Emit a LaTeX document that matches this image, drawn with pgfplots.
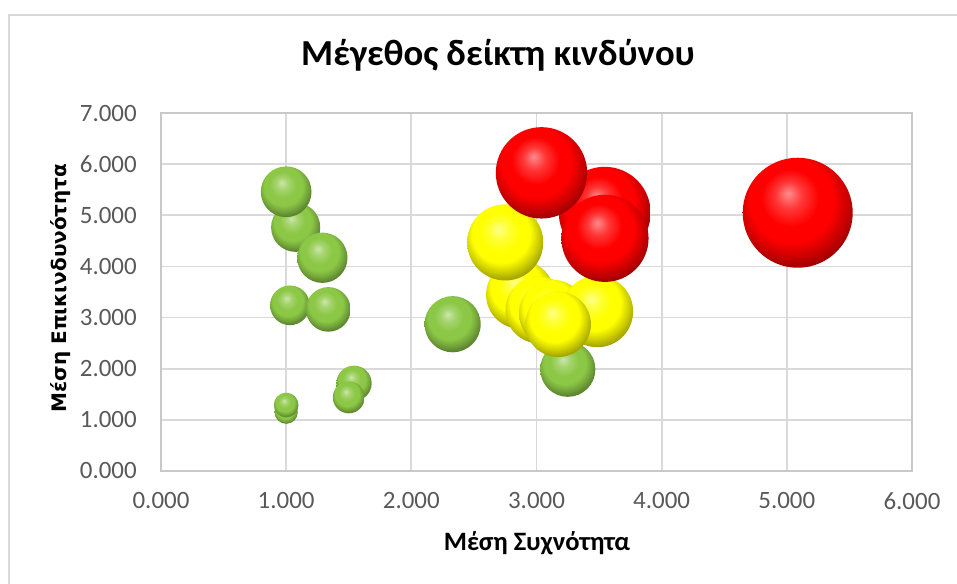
\documentclass[border=0pt]{standalone}
\usepackage{fontspec}
\setmainfont{Carlito}
\newfontfamily\ylabfont{DejaVu Sans}
\usepackage{pgfplots}
\pgfplotsset{compat=1.18}
\usetikzlibrary{plotmarks}
\definecolor{gridc}{RGB}{217,217,217}
\definecolor{axisc}{RGB}{200,200,200}
\definecolor{tickc}{RGB}{89,89,89}
\definecolor{gball}{RGB}{140,200,70}
\definecolor{yball}{RGB}{255,255,0}
\definecolor{rball}{RGB}{255,0,0}
\makeatletter
\pgfdeclareradialshading[tikz@ball]{ball}{\pgfqpoint{-4.5bp}{9bp}}{%
 color(0bp)=(tikz@ball!45!white);
 color(6bp)=(tikz@ball!78!white);
 color(13bp)=(tikz@ball);
 color(19bp)=(tikz@ball);
 color(24bp)=(tikz@ball!82!black);
 color(29bp)=(tikz@ball!62!black);
 color(33bp)=(tikz@ball!50!black);
 color(50bp)=(tikz@ball!50!black)}
\makeatother
\pgfplotstableread{
x y s
1.076 4.765 5.127
1.000 5.460 5.460
1.289 4.170 5.375
1.030 3.240 3.337
1.337 3.160 4.225
1.542 1.715 2.645
1.500 1.440 2.160
1.000 1.150 1.150
1.000 1.290 1.290
2.330 2.870 6.687
3.250 1.990 6.468
}\greentab
\pgfplotstableread{
x y s
2.870 3.450 9.900
3.020 3.150 9.513
3.130 3.080 9.640
3.486 3.120 10.876
2.750 4.470 12.293
3.173 2.870 9.107
}\yellowtab
\pgfplotstableread{
x y s
3.545 5.050 17.902
3.040 5.830 17.723
3.547 4.550 16.139
5.087 5.050 25.689
}\redtab
\pgfplotsset{bubble/.style={scatter, only marks, mark=ball,
  scatter/use mapped color={ball color=#1, draw opacity=0},
  mark options={draw opacity=0},
  visualization depends on={8.14*sqrt(\thisrow{s}) \as \msize},
  scatter/@pre marker code/.append style={/tikz/mark size=\msize pt}}}
\begin{document}
\begin{tikzpicture}
\useasboundingbox (-161*0.75pt,-112*0.75pt) rectangle (796*0.75pt,471*0.75pt);
\draw[gridc, line width=1pt] (-152*0.75pt,-400*0.75pt) rectangle (1200*0.75pt,456*0.75pt);
\begin{axis}[
  at={(0pt,0pt)}, anchor=south west,
  scale only axis, width=563.25pt, height=268.5pt,
  xmin=0, xmax=6, ymin=0, ymax=7,
  xtick={0,1,...,6}, ytick={0,1,...,7},
  grid=major, grid style={draw=gridc, line width=1.3pt},
  axis line style={draw=axisc, line width=1.3pt},
  major tick length=0pt,
  tick style={draw=none},
  ticklabel style={font=\fontsize{18.7}{22}\selectfont, text=tickc},
  /pgf/number format/assume math mode=true,
  /pgf/number format/.cd, fixed, fixed zerofill, precision=3, 1000 sep={},
  /pgfplots/.cd,
  xticklabel style={anchor=north, inner sep=0pt, yshift=-16pt},
  yticklabel style={anchor=east, inner sep=0pt, xshift=-18pt},
  clip=false,
]
\addplot[bubble=gball] table[x=x, y=y] {\greentab};
\addplot[bubble=yball] table[x=x, y=y] {\yellowtab};
\addplot[bubble=rball] table[x=x, y=y] {\redtab};
\end{axis}
\node[anchor=base, inner sep=0pt, font=\fontsize{27.5}{32}\selectfont\bfseries] at (337*0.75pt,406*0.75pt) {Μέγεθος δείκτη κινδύνου};
\node[anchor=base, inner sep=0pt, font=\fontsize{19.9}{24}\selectfont\bfseries] at (376*0.75pt,-79*0.75pt) {Μέση Συχνότητα};
\node[anchor=base, inner sep=0pt, rotate=90, font=\ylabfont\fontsize{15}{18}\selectfont\bfseries] at (-94*0.75pt,183*0.75pt) {Μέση Επικινδυνότητα};
\end{tikzpicture}
\end{document}
